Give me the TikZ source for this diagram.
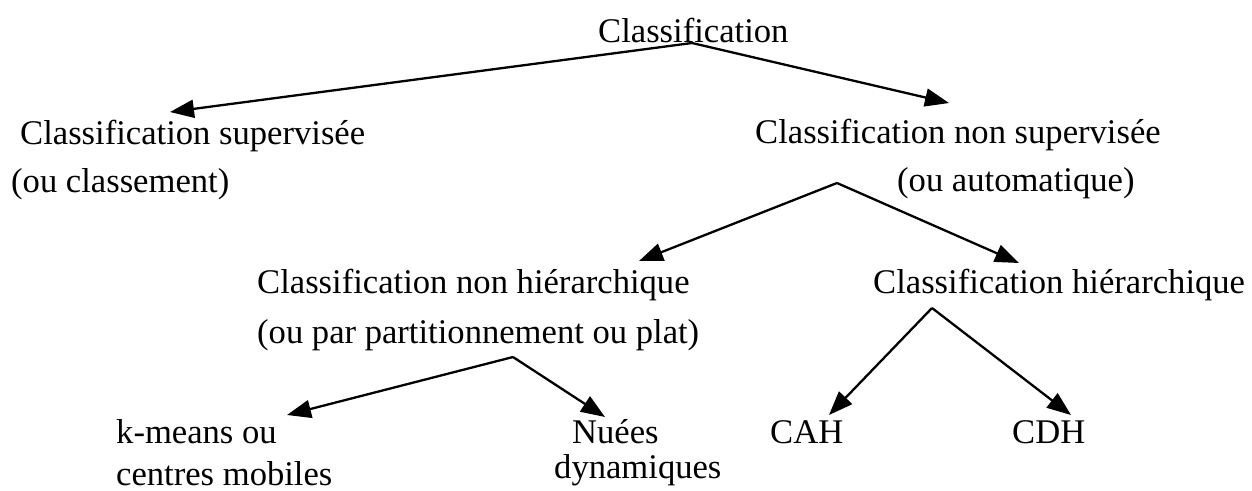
\documentclass[tikz,border=0pt]{standalone}
\usepackage{fontspec}
\setmainfont{Liberation Serif}
\usetikzlibrary{arrows.meta}
\begin{document}
\begin{tikzpicture}[x=1pt,y=-1pt,
  lbl/.style={anchor=base west,inner sep=0pt,font=\fontsize{34.6}{40}\selectfont},
  conn/.style={line width=2.3pt,-{Triangle[length=24pt,width=18pt]}}]
\useasboundingbox (0,0) rectangle (1252,490);
\node[lbl] (root) at (598,42) {Classification};
\node[lbl] (sup1) at (20,144) {Classification supervisée};
\node[lbl] (sup2) at (11,192) {(ou classement)};
\node[lbl] (nsup1) at (755,143) {Classification non supervisée};
\node[lbl] (nsup2) at (897,191) {(ou automatique)};
\node[lbl] (nh1) at (257,293) {Classification non hiérarchique};
\node[lbl] (nh2) at (257,343) {(ou par partitionnement ou plat)};
\node[lbl] (h1) at (873,293) {Classification hiérarchique};
\node[lbl] (km1) at (116,443) {k-means ou};
\node[lbl] (km2) at (116,485) {centres mobiles};
\node[lbl] (nd1) at (572,443) {Nuées};
\node[lbl] (nd2) at (554,478) {dynamiques};
\node[lbl] (cah) at (770,443) {CAH};
\node[lbl] (cdh) at (1012,443) {CDH};
\coordinate (a0) at (692,43);
\coordinate (t1) at (170,112);
\coordinate (t2) at (949,103);
\coordinate (a1) at (837,183);
\coordinate (t3) at (639,261);
\coordinate (t4) at (1019,263);
\coordinate (a2) at (513,357);
\coordinate (t5) at (287,415);
\coordinate (t6) at (605,417);
\coordinate (a3) at (932,308);
\coordinate (t7) at (829,415);
\coordinate (t8) at (1071,415);
\draw[conn] (a0) -- (t1);
\draw[conn] (a0) -- (t2);
\draw[conn] (a1) -- (t3);
\draw[conn] (a1) -- (t4);
\draw[conn] (a2) -- (t5);
\draw[conn] (a2) -- (t6);
\draw[conn] (a3) -- (t7);
\draw[conn] (a3) -- (t8);
\end{tikzpicture}
\end{document}
